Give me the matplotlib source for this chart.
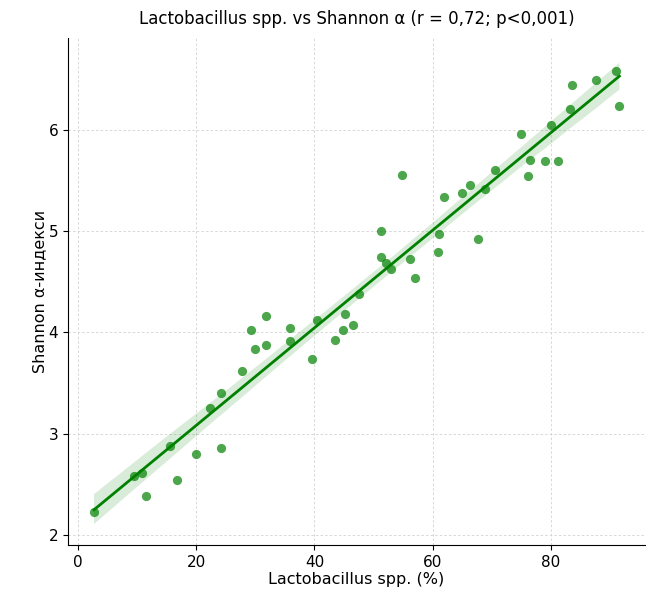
import matplotlib
matplotlib.use("Agg")
import matplotlib.pyplot as plt
import numpy as np
import seaborn as sns

lacto = [2.7, 9.5, 10.8, 11.5, 15.6, 16.7, 20.0, 22.3, 24.2, 24.2,
         27.7, 29.2, 29.9, 31.8, 31.8, 35.8, 35.8, 39.6, 40.4, 43.4,
         44.8, 45.1, 46.5, 47.5,
         51.2, 51.2, 52.1, 52.9, 54.8, 56.1, 57.0, 60.9, 61.0, 61.9,
         64.9, 66.3, 67.6, 68.9, 70.5, 74.9, 76.1, 76.4, 79.0, 80.1,
         81.2, 83.2, 83.5, 87.6, 91.1, 91.6]
shannon = [2.23, 2.58, 2.61, 2.38, 2.88, 2.54, 2.80, 3.25, 3.40, 2.86,
           3.62, 4.02, 3.84, 4.16, 3.88, 4.04, 3.92, 3.74, 4.12, 3.93,
           4.02, 4.18, 4.07, 4.38,
           5.00, 4.75, 4.69, 4.63, 5.56, 4.73, 4.54, 4.79, 4.97, 5.34,
           5.38, 5.46, 4.92, 5.42, 5.60, 5.96, 5.55, 5.70, 5.69, 6.05,
           5.69, 6.21, 6.44, 6.49, 6.58, 6.24]

x_ticks = [0, 20, 40, 60, 80]
y_ticks = [2, 3, 4, 5, 6]

fig = plt.figure(figsize=(6.5, 5.92), dpi=100)
ax = fig.add_axes([0.1046, 0.0794, 0.8874, 0.8566])

ax.grid(True, linestyle=(0, (3, 2.5)), color='#d2d2d2', linewidth=0.6)
ax.set_axisbelow(True)

sns.regplot(x=np.array(lacto), y=np.array(shannon), ax=ax, ci=95, seed=0,
            color='green',
            scatter_kws=dict(s=44, alpha=0.7, linewidths=0),
            line_kws=dict(color='green', linewidth=2))

ax.set_xlim(-1.7, 95.9)
ax.set_ylim(1.9, 6.91)
ax.set_xticks(x_ticks)
ax.set_yticks(y_ticks)
ax.tick_params(labelsize=11)
for s in ['top', 'right']:
    ax.spines[s].set_visible(False)

ax.set_title('Lactobacillus spp. vs Shannon α (r = 0,72; p<0,001)', fontsize=12, pad=10)
ax.set_xlabel('Lactobacillus spp. (%)', fontsize=11.5, labelpad=2)
ax.set_ylabel('Shannon α-индекси', fontsize=11.5, labelpad=1)

fig.savefig('out.png', dpi=100)
